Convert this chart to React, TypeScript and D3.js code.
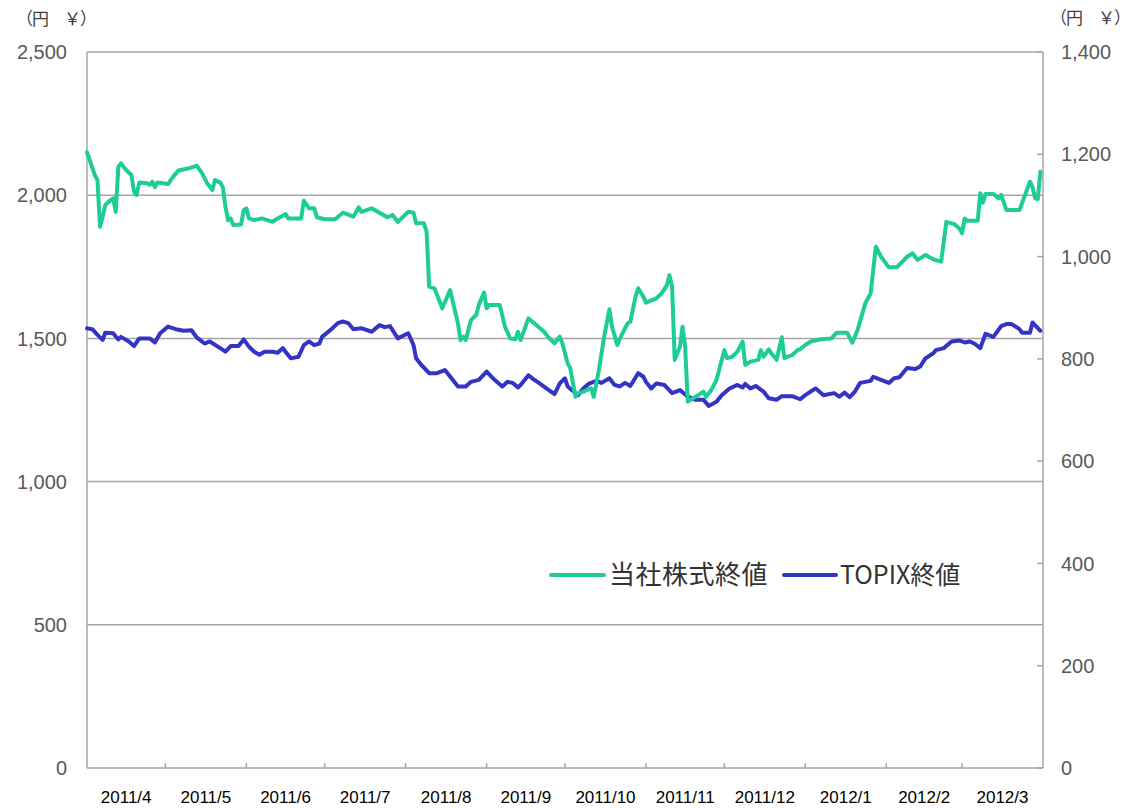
import * as d3 from "d3";

// 当社株式終値 (left axis, 円)
const stockDates = [
  "2011-04-01", "2011-04-04", "2011-04-05", "2011-04-06", "2011-04-07", "2011-04-08", "2011-04-10", "2011-04-11",
  "2011-04-12", "2011-04-13", "2011-04-14", "2011-04-16", "2011-04-18", "2011-04-19", "2011-04-20", "2011-04-21",
  "2011-04-24", "2011-04-25", "2011-04-26", "2011-04-27", "2011-04-28", "2011-05-02", "2011-05-04", "2011-05-06",
  "2011-05-10", "2011-05-13", "2011-05-15", "2011-05-17", "2011-05-19", "2011-05-20", "2011-05-22", "2011-05-23",
  "2011-05-24", "2011-05-25", "2011-05-26", "2011-05-27", "2011-05-30", "2011-05-31", "2011-06-01", "2011-06-02",
  "2011-06-04", "2011-06-07", "2011-06-09", "2011-06-11", "2011-06-13", "2011-06-16", "2011-06-17", "2011-06-22",
  "2011-06-23", "2011-06-25", "2011-06-27", "2011-06-28", "2011-07-01", "2011-07-05", "2011-07-08", "2011-07-12",
  "2011-07-14", "2011-07-15", "2011-07-19", "2011-07-22", "2011-07-25", "2011-07-27", "2011-07-29", "2011-08-02",
  "2011-08-04", "2011-08-05", "2011-08-08", "2011-08-09", "2011-08-10", "2011-08-12", "2011-08-15", "2011-08-18",
  "2011-08-21", "2011-08-22", "2011-08-23", "2011-08-24", "2011-08-26", "2011-08-28", "2011-08-29", "2011-08-31",
  "2011-09-01", "2011-09-02", "2011-09-06", "2011-09-08", "2011-09-10", "2011-09-12", "2011-09-13", "2011-09-14",
  "2011-09-17", "2011-09-20", "2011-09-23", "2011-09-25", "2011-09-27", "2011-09-29", "2011-09-30", "2011-10-02",
  "2011-10-03", "2011-10-05", "2011-10-06", "2011-10-08", "2011-10-11", "2011-10-12", "2011-10-14", "2011-10-16",
  "2011-10-18", "2011-10-19", "2011-10-21", "2011-10-23", "2011-10-25", "2011-10-26", "2011-10-28", "2011-10-29",
  "2011-10-31", "2011-11-01", "2011-11-05", "2011-11-07", "2011-11-09", "2011-11-10", "2011-11-11", "2011-11-12",
  "2011-11-14", "2011-11-15", "2011-11-16", "2011-11-17", "2011-11-19", "2011-11-21", "2011-11-23", "2011-11-24",
  "2011-11-26", "2011-11-28", "2011-11-29", "2011-12-01", "2011-12-02", "2011-12-04", "2011-12-06", "2011-12-08",
  "2011-12-09", "2011-12-11", "2011-12-14", "2011-12-15", "2011-12-16", "2011-12-18", "2011-12-19", "2011-12-21",
  "2011-12-23", "2011-12-24", "2011-12-27", "2011-12-29", "2011-12-30", "2012-01-01", "2012-01-03", "2012-01-07",
  "2012-01-11", "2012-01-13", "2012-01-17", "2012-01-19", "2012-01-21", "2012-01-24", "2012-01-26", "2012-01-28",
  "2012-01-30", "2012-02-02", "2012-02-05", "2012-02-09", "2012-02-11", "2012-02-13", "2012-02-16", "2012-02-19",
  "2012-02-22", "2012-02-24", "2012-02-27", "2012-02-29", "2012-03-01", "2012-03-02", "2012-03-03", "2012-03-07",
  "2012-03-08", "2012-03-09", "2012-03-10", "2012-03-13", "2012-03-15", "2012-03-16", "2012-03-18", "2012-03-23",
  "2012-03-27", "2012-03-28", "2012-03-29", "2012-03-30", "2012-03-31",
];
const stockValues = [
  2150, 2070, 2053, 1890, 1925, 1966, 1983, 1989,
  1942, 2100, 2111, 2088, 2070, 2012, 2001, 2044,
  2042, 2036, 2047, 2028, 2044, 2039, 2065, 2086,
  2094, 2103, 2077, 2042, 2018, 2053, 2044, 2028,
  1960, 1913, 1919, 1896, 1898, 1948, 1954, 1919,
  1913, 1919, 1913, 1907, 1919, 1934, 1919, 1919,
  1981, 1954, 1954, 1923, 1916, 1916, 1939, 1925,
  1958, 1942, 1954, 1939, 1923, 1931, 1907, 1942,
  1939, 1902, 1902, 1873, 1681, 1675, 1605, 1669,
  1553, 1494, 1506, 1494, 1564, 1582, 1617, 1660,
  1605, 1617, 1617, 1541, 1500, 1497, 1523, 1494,
  1570, 1547, 1523, 1500, 1483, 1506, 1483, 1413,
  1397, 1296, 1308, 1314, 1326, 1296, 1390, 1506,
  1602, 1541, 1477, 1518, 1553, 1558, 1646, 1675,
  1646, 1625, 1640, 1657, 1686, 1721, 1681, 1425,
  1471, 1541, 1471, 1279, 1291, 1302, 1314, 1296,
  1320, 1355, 1390, 1459, 1431, 1436, 1454, 1489,
  1407, 1419, 1425, 1459, 1436, 1462, 1448, 1425,
  1504, 1431, 1442, 1459, 1462, 1477, 1489, 1497,
  1500, 1520, 1520, 1485, 1529, 1623, 1657, 1820,
  1785, 1748, 1748, 1785, 1797, 1774, 1791, 1776,
  1768, 1907, 1899, 1884, 1867, 1919, 1911, 1911,
  2007, 1974, 2004, 2004, 1989, 2001, 1948, 1948,
  2047, 2028, 1989, 1986, 2082,
];

// TOPIX終値 (right axis)
const topixDates = [
  "2011-04-01", "2011-04-03", "2011-04-05", "2011-04-07", "2011-04-08", "2011-04-11", "2011-04-13", "2011-04-14",
  "2011-04-17", "2011-04-19", "2011-04-21", "2011-04-25", "2011-04-27", "2011-04-29", "2011-05-02", "2011-05-05",
  "2011-05-08", "2011-05-11", "2011-05-13", "2011-05-16", "2011-05-18", "2011-05-22", "2011-05-24", "2011-05-26",
  "2011-05-29", "2011-05-31", "2011-06-02", "2011-06-04", "2011-06-06", "2011-06-08", "2011-06-11", "2011-06-13",
  "2011-06-15", "2011-06-16", "2011-06-18", "2011-06-21", "2011-06-23", "2011-06-25", "2011-06-27", "2011-06-29",
  "2011-06-30", "2011-07-04", "2011-07-06", "2011-07-08", "2011-07-10", "2011-07-12", "2011-07-15", "2011-07-19",
  "2011-07-22", "2011-07-24", "2011-07-26", "2011-07-29", "2011-08-02", "2011-08-04", "2011-08-05", "2011-08-07",
  "2011-08-10", "2011-08-13", "2011-08-16", "2011-08-19", "2011-08-21", "2011-08-24", "2011-08-26", "2011-08-29",
  "2011-09-01", "2011-09-04", "2011-09-07", "2011-09-09", "2011-09-11", "2011-09-13", "2011-09-14", "2011-09-17",
  "2011-09-19", "2011-09-21", "2011-09-24", "2011-09-27", "2011-09-29", "2011-10-01", "2011-10-02", "2011-10-06",
  "2011-10-08", "2011-10-10", "2011-10-13", "2011-10-15", "2011-10-18", "2011-10-20", "2011-10-22", "2011-10-24",
  "2011-10-26", "2011-10-29", "2011-10-31", "2011-11-01", "2011-11-03", "2011-11-05", "2011-11-08", "2011-11-11",
  "2011-11-14", "2011-11-17", "2011-11-20", "2011-11-23", "2011-11-25", "2011-11-28", "2011-11-30", "2011-12-03",
  "2011-12-06", "2011-12-08", "2011-12-09", "2011-12-11", "2011-12-13", "2011-12-16", "2011-12-18", "2011-12-21",
  "2011-12-23", "2011-12-27", "2011-12-30", "2012-01-01", "2012-01-03", "2012-01-05", "2012-01-08", "2012-01-12",
  "2012-01-14", "2012-01-16", "2012-01-18", "2012-01-20", "2012-01-22", "2012-01-26", "2012-01-27", "2012-01-30",
  "2012-02-02", "2012-02-04", "2012-02-06", "2012-02-09", "2012-02-12", "2012-02-14", "2012-02-16", "2012-02-19",
  "2012-02-20", "2012-02-23", "2012-02-26", "2012-02-29", "2012-03-02", "2012-03-04", "2012-03-06", "2012-03-08",
  "2012-03-10", "2012-03-13", "2012-03-16", "2012-03-18", "2012-03-20", "2012-03-23", "2012-03-24", "2012-03-27",
  "2012-03-28", "2012-03-30", "2012-03-31",
];
const topixValues = [
  860, 858, 847, 837, 851, 850, 838, 843,
  834, 825, 840, 840, 832, 850, 863, 858,
  855, 856, 842, 830, 834, 821, 814, 825,
  825, 838, 824, 814, 808, 814, 814, 812,
  821, 814, 801, 804, 827, 834, 827, 830,
  843, 860, 870, 873, 870, 858, 860, 853,
  866, 862, 864, 840, 850, 827, 801, 788,
  772, 772, 778, 759, 746, 746, 755, 759,
  775, 759, 746, 755, 753, 744, 749, 768,
  760, 753, 742, 731, 752, 762, 746, 729,
  742, 751, 757, 753, 762, 749, 746, 753,
  747, 772, 765, 755, 742, 752, 749, 733,
  739, 726, 720, 720, 708, 716, 729, 742,
  749, 744, 751, 742, 747, 736, 723, 720,
  727, 727, 721, 729, 736, 742, 729, 733,
  726, 734, 725, 736, 753, 757, 765, 759,
  753, 762, 764, 782, 780, 785, 801, 811,
  817, 821, 834, 836, 832, 834, 829, 821,
  849, 843, 864, 868, 868, 858, 851, 851,
  871, 860, 855,
];

const leftTicks = [0, 500, 1000, 1500, 2000, 2500];
const rightTicks = [0, 200, 400, 600, 800, 1000, 1200, 1400];
const monthLabels = [
  "2011/4", "2011/5", "2011/6", "2011/7", "2011/8", "2011/9",
  "2011/10", "2011/11", "2011/12", "2012/1", "2012/2", "2012/3",
];
const seriesNames = ["当社株式終値", "TOPIX終値"];
const unitLabel = "（円　￥）";

const W = 1131;
const H = 808;
const left = 87;
const right = 1043;
const top = 52;
const bottom = 768;

const green = "#1ecc97";
const blue = "#3333c6";
const gridColor = "#a6a6a6";
const numFont = "'Liberation Sans', Arial, sans-serif";
const jpFont = "'Noto Sans CJK JP', 'Noto Sans', sans-serif";

export default function App() {
  const parse = d3.timeParse("%Y-%m-%d");
  const start = parse("2011-04-01") as Date;
  const end = parse("2012-04-01") as Date;

  const x = d3.scaleTime().domain([start, end]).range([left, right]);
  const yL = d3.scaleLinear().domain([0, 2500]).range([bottom, top]);
  const yR = d3.scaleLinear().domain([0, 1400]).range([bottom, top]);

  const stock = stockDates.map((d, i) => ({ date: parse(d) as Date, value: stockValues[i] }));
  const topix = topixDates.map((d, i) => ({ date: parse(d) as Date, value: topixValues[i] }));

  const stockLine = d3
    .line<{ date: Date; value: number }>()
    .x((d) => x(d.date))
    .y((d) => yL(d.value));
  const topixLine = d3
    .line<{ date: Date; value: number }>()
    .x((d) => x(d.date))
    .y((d) => yR(d.value));

  const months = d3.timeMonth.range(start, end);
  const fmt = d3.format(",");

  return (
    <svg
      width={W}
      height={H}
      style={{ position: "absolute", left: 0, top: 0, background: "#fff" }}
    >
      {/* gridlines and frame */}
      <g stroke={gridColor} strokeWidth={1.5}>
        {leftTicks.map((t) => (
          <line key={t} x1={left} x2={right} y1={yL(t)} y2={yL(t)} />
        ))}
        <line x1={left} x2={left} y1={top} y2={bottom} />
        <line x1={right} x2={right} y1={top} y2={bottom} />
        {months.slice(1).map((m, i) => (
          <line key={i} x1={x(m)} x2={x(m)} y1={bottom} y2={bottom - 5} />
        ))}
        {rightTicks.map((t) => (
          <line key={t} x1={right - 6} x2={right} y1={yR(t)} y2={yR(t)} />
        ))}
      </g>

      {/* left axis labels */}
      <g fontFamily={numFont} fontSize={20} fill="#595959" textAnchor="end">
        {leftTicks.map((t) => (
          <text key={t} x={67} y={yL(t)} dy="0.36em">
            {fmt(t)}
          </text>
        ))}
      </g>
      {/* right axis labels */}
      <g fontFamily={numFont} fontSize={20} fill="#595959" textAnchor="start">
        {rightTicks.map((t) => (
          <text key={t} x={1061} y={yR(t)} dy="0.36em">
            {fmt(t)}
          </text>
        ))}
      </g>

      {/* unit labels */}
      <g fontFamily={jpFont} fontSize={17} fill="#404040" letterSpacing={-1}>
        <text x={16} y={25}>{unitLabel}</text>
        <text x={1050} y={24}>{unitLabel}</text>
      </g>

      {/* month labels */}
      <g fontFamily={numFont} fontSize={17} fill="#000" textAnchor="middle">
        {months.map((m, i) => {
          const next = d3.timeMonth.offset(m, 1);
          return (
            <text key={i} x={(x(m) + x(next)) / 2} y={803}>
              {monthLabels[i]}
            </text>
          );
        })}
      </g>

      {/* series */}
      <path
        d={String(topixLine(topix))}
        fill="none"
        stroke={blue}
        strokeWidth={4}
        strokeLinejoin="round"
        strokeLinecap="round"
      />
      <path
        d={String(stockLine(stock))}
        fill="none"
        stroke={green}
        strokeWidth={4}
        strokeLinejoin="round"
        strokeLinecap="round"
      />

      {/* legend */}
      <g fontFamily={jpFont} fill="#333">
        <line x1={551} x2={604} y1={575} y2={575} stroke={green} strokeWidth={4} strokeLinecap="round" />
        <text x={609} y={575} dy="0.36em" fontSize={26} letterSpacing={0.5}>{seriesNames[0]}</text>
        <line x1={784} x2={836} y1={575} y2={575} stroke={blue} strokeWidth={4} strokeLinecap="round" />
        <text x={840} y={575} dy="0.36em" fontSize={25}>{seriesNames[1]}</text>
      </g>
    </svg>
  );
}
